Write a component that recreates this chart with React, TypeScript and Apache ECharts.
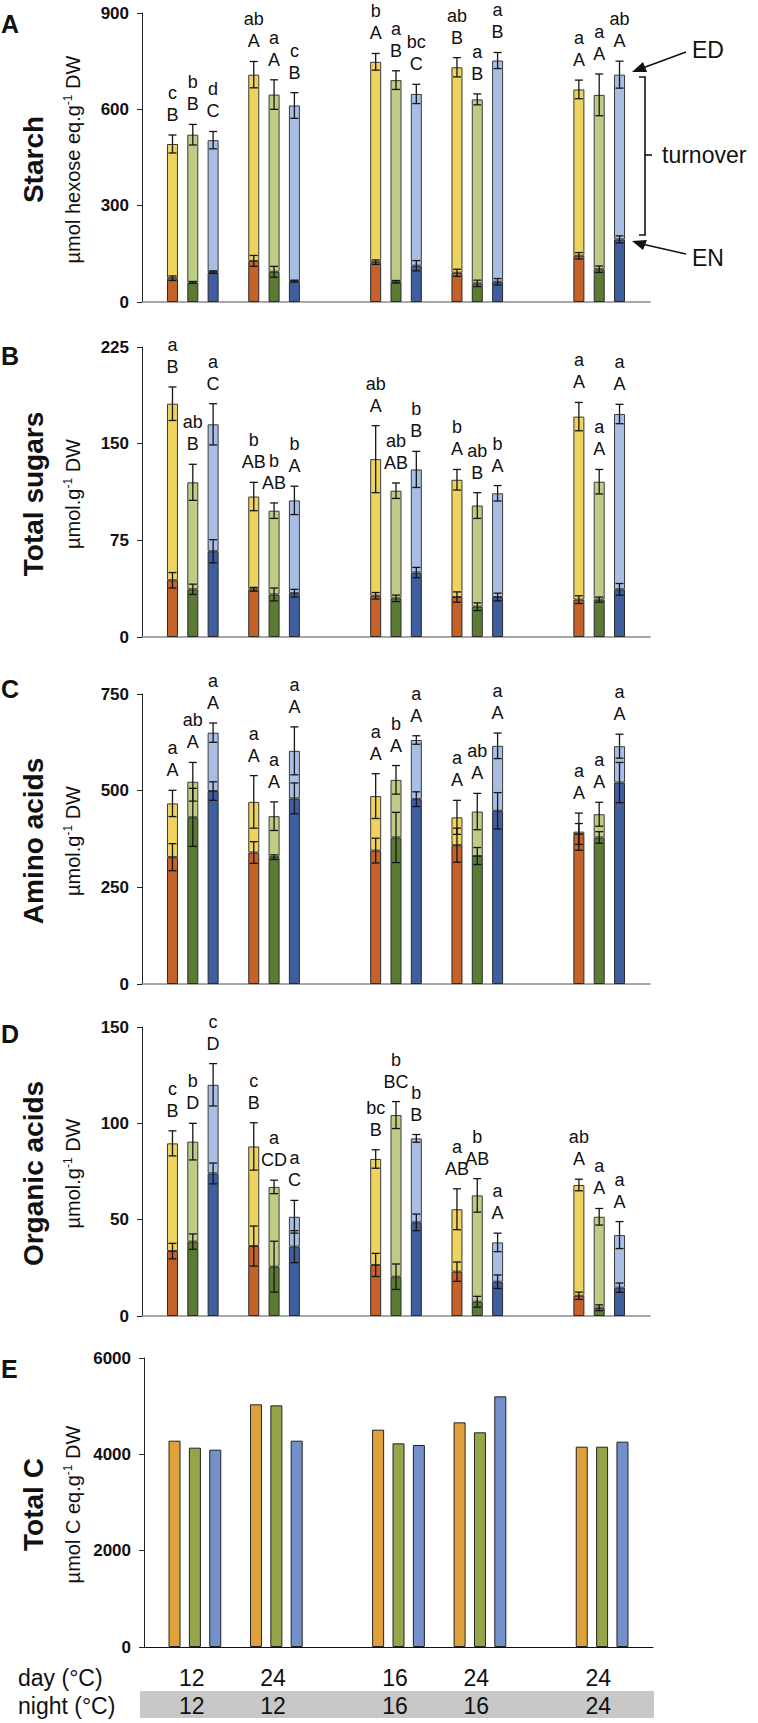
import React, { useEffect, useRef } from 'react';
import * as echarts from 'echarts';

const FONT = '"Liberation Sans", Arial, Helvetica, sans-serif';

// Temperature regimes (°C)
const dayTemps = ['12', '24', '16', '24', '24'];
const nightTemps = ['12', '12', '16', '16', '24'];

// Order inside each regime: orange line, green line, blue line
// A  Starch (µmol hexose eq. g-1 DW)
const starchEN = [74, 61, 93, 128, 94, 65, 124, 63, 113, 91, 58, 63, 144, 102, 195];
const starchENErr = [7, 3, 4, 17, 17, 3, 7, 4, 16, 11, 10, 10, 10, 10, 11];
const starchED = [492, 521, 504, 708, 646, 612, 748, 691, 648, 731, 631, 752, 662, 645, 708];
const starchEDErr = [28, 32, 27, 41, 46, 40, 26, 29, 30, 30, 17, 25, 29, 65, 42];
const starchLower = ['c', 'b', 'd', 'ab', 'a', 'c', 'b', 'a', 'bc', 'ab', 'a', 'a', 'a', 'a', 'ab'];
const starchUpper = ['B', 'B', 'C', 'A', 'A', 'B', 'A', 'B', 'C', 'B', 'B', 'B', 'A', 'A', 'A'];

// B  Total sugars (µmol g-1 DW)
const sugarEN = [44, 37, 66.5, 37, 33, 34, 32, 30, 50, 31, 23.5, 31, 29, 29, 37];
const sugarENErr = [6, 4, 9, 1.5, 5, 3, 2.5, 2.5, 4, 4, 3, 3, 3, 2, 4.5];
const sugarED = [181, 120, 165, 109, 98, 106, 138, 113.5, 130, 122, 102, 111.5, 171, 120.5, 173];
const sugarEDErr = [13, 14, 16, 11, 6, 11, 26, 6, 14, 8, 10, 6, 11, 9.5, 7.5];
const sugarLower = ['a', 'ab', 'a', 'b', 'b', 'b', 'ab', 'ab', 'b', 'b', 'ab', 'b', 'a', 'a', 'a'];
const sugarUpper = ['B', 'B', 'C', 'AB', 'AB', 'A', 'A', 'AB', 'B', 'A', 'B', 'A', 'A', 'A', 'A'];

// C  Amino acids (µmol g-1 DW)
const aminoEN = [328, 431, 499, 340, 328, 480, 345, 379, 478, 359, 331, 448, 388, 379, 521];
const aminoENErr = [35, 75, 24, 28, 6, 40, 32, 65, 19, 44, 22, 47, 27, 15, 52];
const aminoED = [467, 523, 650, 471, 434, 603, 486, 528, 631, 431, 446, 616, 394, 439, 615];
const aminoEDErr = [34, 50, 25, 68, 37, 62, 58, 37, 11, 44, 47, 33, 48, 31, 31];
const aminoLower = ['a', 'ab', 'a', 'a', 'a', 'a', 'a', 'b', 'a', 'a', 'ab', 'a', 'a', 'a', 'a'];
const aminoUpper = ['A', 'A', 'A', 'A', 'A', 'A', 'A', 'A', 'A', 'A', 'A', 'A', 'A', 'A', 'A'];

// D  Organic acids (µmol g-1 DW)
const organicEN = [33.7, 38.6, 74, 36.3, 25.6, 36, 26.5, 20.4, 48.6, 23, 7.4, 17.8, 10.5, 4.3, 14.7];
const organicENErr = [4, 4, 5.4, 10.4, 13.2, 8.3, 6, 6.6, 4.3, 5, 2.8, 3.5, 1.9, 1.5, 2.4];
const organicED = [89.6, 90.5, 120, 88, 67, 51.5, 81.5, 104.3, 92.2, 55.4, 62.6, 38.2, 68, 51.5, 42];
const organicEDErr = [6.5, 9.5, 11, 12.3, 3.5, 8.5, 4.8, 7, 2, 10.6, 8.7, 4.8, 3, 4.3, 7];
const organicLower = ['c', 'b', 'c', 'c', 'a', 'a', 'bc', 'b', 'b', 'a', 'b', 'a', 'ab', 'a', 'a'];
const organicUpper = ['B', 'D', 'D', 'B', 'CD', 'C', 'B', 'BC', 'B', 'AB', 'AB', 'A', 'A', 'A', 'A'];

// E  Total C (µmol C eq. g-1 DW)
const totalC = [4283, 4138, 4097, 5038, 5017, 4283, 4512, 4228, 4194, 4664, 4457, 5204, 4159, 4159, 4263];

// ---- layout / style (not data) ----
const SLOT_COUNT = 25;
const BAR_SLOTS = [1, 2, 3, 5, 6, 7, 11, 12, 13, 15, 16, 17, 21, 22, 23];
const GROUP_CENTER_SLOTS = [2, 6, 12, 16, 22];
const categories = Array.from({ length: SLOT_COUNT }, (_, i) => 's' + i);

const DARK = ['#C5622A', '#5B7A33', '#3F5EA0'];
const LIGHT = ['#EED35E', '#BFCC85', '#A9BEE5'];
const TOTAL = ['#DFA23B', '#95A54A', '#7390CB'];

const grids = [
  { left: 142, top: 13, width: 508, height: 289 },
  { left: 142, top: 347, width: 508, height: 290 },
  { left: 142, top: 694, width: 508, height: 290 },
  { left: 142, top: 1027, width: 508, height: 289 },
  { left: 144, top: 1358, width: 509, height: 289 },
];

const panelMeta = [
  { letter: 'A', letterTop: 15, title: 'Starch', unit: 'µmol hexose eq.g', max: 900, interval: 300 },
  { letter: 'B', letterTop: 347, title: 'Total sugars', unit: 'µmol.g', max: 225, interval: 75 },
  { letter: 'C', letterTop: 680, title: 'Amino acids', unit: 'µmol.g', max: 750, interval: 250 },
  { letter: 'D', letterTop: 1025, title: 'Organic acids', unit: 'µmol.g', max: 150, interval: 50 },
  { letter: 'E', letterTop: 1360, title: 'Total C', unit: 'µmol C eq.g', max: 6000, interval: 2000 },
];

const stacked = [
  { en: starchEN, enErr: starchENErr, ed: starchED, edErr: starchEDErr, lower: starchLower, upper: starchUpper },
  { en: sugarEN, enErr: sugarENErr, ed: sugarED, edErr: sugarEDErr, lower: sugarLower, upper: sugarUpper },
  { en: aminoEN, enErr: aminoENErr, ed: aminoED, edErr: aminoEDErr, lower: aminoLower, upper: aminoUpper },
  { en: organicEN, enErr: organicENErr, ed: organicED, edErr: organicEDErr, lower: organicLower, upper: organicUpper },
];

function toSlots(vals: number[], palette: string[]) {
  const arr: any[] = new Array(SLOT_COUNT).fill(null);
  BAR_SLOTS.forEach((s, k) => {
    arr[s] = { value: vals[k], itemStyle: { color: palette[k % 3] } };
  });
  return arr;
}

function txt(extra: any) {
  return { type: 'text', silent: true, ...extra };
}

function buildOption() {
  const xAxis: any[] = [];
  const yAxis: any[] = [];
  const series: any[] = [];
  const graphic: any[] = [];

  grids.forEach((g, i) => {
    const isE = i === 4;
    xAxis.push({
      type: 'category',
      gridIndex: i,
      data: categories,
      boundaryGap: true,
      axisLine: { show: true, lineStyle: { color: isE ? '#111' : '#8a8a8a', width: isE ? 1.2 : 1.6 } },
      axisTick: { show: false },
      axisLabel: { show: false },
      splitLine: { show: false },
    });
    yAxis.push({
      type: 'value',
      gridIndex: i,
      min: 0,
      max: panelMeta[i].max,
      interval: panelMeta[i].interval,
      axisLine: { show: true, lineStyle: { color: '#222', width: 1 } },
      axisTick: { show: true, length: 5, lineStyle: { color: '#222' } },
      axisLabel: {
        fontFamily: FONT, fontWeight: 'bold', fontSize: 17, color: '#111', margin: 13,
        formatter: (v: number) => String(v),
      },
      splitLine: { show: false },
    });
  });

  stacked.forEach((d, i) => {
    const turnover = d.ed.map((v, k) => v - d.en[k]);
    series.push({
      type: 'bar', name: 'EN' + i, xAxisIndex: i, yAxisIndex: i, stack: 'p' + i,
      barWidth: 11, data: toSlots(d.en, DARK),
      itemStyle: { borderColor: '#2a2a2a', borderWidth: 1 },
      silent: true,
    });
    series.push({
      type: 'bar', name: 'turnover' + i, xAxisIndex: i, yAxisIndex: i, stack: 'p' + i,
      barWidth: 11, data: toSlots(turnover, LIGHT),
      itemStyle: { borderColor: '#3a3a3a', borderWidth: 1 },
      silent: true,
    });
    series.push({
      type: 'custom', xAxisIndex: i, yAxisIndex: i, z: 5, silent: true,
      data: BAR_SLOTS.map((s, k) => [s, Math.max(d.ed[k] + d.edErr[k], d.en[k] + d.enErr[k])]),
      renderItem: (params: any, api: any) => {
        const k = params.dataIndex;
        const s = BAR_SLOTS[k];
        const children: any[] = [];
        const st = { stroke: '#151515', lineWidth: 1.3 };
        const pairs = [[d.en[k], d.enErr[k]], [d.ed[k], d.edErr[k]]];
        pairs.forEach(([v, e]) => {
          const hi = api.coord([s, v + e]);
          const lo = api.coord([s, Math.max(v - e, 0)]);
          const x = hi[0];
          children.push({ type: 'line', shape: { x1: x, y1: hi[1], x2: x, y2: lo[1] }, style: st });
          children.push({ type: 'line', shape: { x1: x - 4, y1: hi[1], x2: x + 4, y2: hi[1] }, style: st });
          children.push({ type: 'line', shape: { x1: x - 4, y1: lo[1], x2: x + 4, y2: lo[1] }, style: st });
        });
        return { type: 'group', children };
      },
    });
    series.push({
      type: 'custom', xAxisIndex: i, yAxisIndex: i, z: 6, silent: true,
      data: BAR_SLOTS.map((s, k) => [s, Math.max(d.ed[k] + d.edErr[k], d.en[k] + d.enErr[k])]),
      renderItem: (params: any, api: any) => {
        const k = params.dataIndex;
        const p = api.coord([api.value(0), api.value(1)]);
        return {
          type: 'text',
          x: p[0],
          y: p[1] - 9,
          style: {
            text: d.lower[k] + '\n' + d.upper[k],
            fontFamily: FONT, fontSize: 18, lineHeight: 22, fill: '#111',
            align: 'center', verticalAlign: 'bottom',
            textAlign: 'center', textVerticalAlign: 'bottom',
          },
        };
      },
    });
  });

  series.push({
    type: 'bar', name: 'Total C', xAxisIndex: 4, yAxisIndex: 4, barWidth: 12,
    data: toSlots(totalC, TOTAL),
    itemStyle: { borderColor: '#222', borderWidth: 1 },
    silent: true,
  });

  // titles, panel letters
  panelMeta.forEach((m, i) => {
    const g = grids[i];
    const cy = g.top + g.height / 2 + 2;
    graphic.push(txt({
      x: 1, y: m.letterTop - 4,
      style: { text: m.letter, fontFamily: FONT, fontWeight: 'bold', fontSize: 25, fill: '#111', align: 'left', verticalAlign: 'top', textAlign: 'left', textVerticalAlign: 'top' },
    }));
    graphic.push(txt({
      x: 33, y: cy, rotation: Math.PI / 2,
      style: { text: m.title, fontFamily: FONT, fontWeight: 'bold', fontSize: 28, fill: '#111', align: 'center', verticalAlign: 'middle', textAlign: 'center', textVerticalAlign: 'middle' },
    }));
    graphic.push(txt({
      x: 73, y: cy, rotation: Math.PI / 2,
      style: {
        text: '{n|' + m.unit + '}{s|-1}{n| DW}',
        rich: {
          n: { fontFamily: FONT, fontSize: 20, lineHeight: 22, fill: '#111', verticalAlign: 'middle' },
          s: { fontFamily: FONT, fontSize: 12, lineHeight: 12, fill: '#111', verticalAlign: 'top' },
        },
        align: 'center', verticalAlign: 'middle', textAlign: 'center', textVerticalAlign: 'middle',
      },
    }));
  });

  // annotations in panel A
  const ann = { stroke: '#111', lineWidth: 1.6 };
  graphic.push(txt({ x: 692, y: 50, style: { text: 'ED', fontFamily: FONT, fontSize: 23, fill: '#111', align: 'left', verticalAlign: 'middle', textAlign: 'left', textVerticalAlign: 'middle' } }));
  graphic.push(txt({ x: 692, y: 258, style: { text: 'EN', fontFamily: FONT, fontSize: 23, fill: '#111', align: 'left', verticalAlign: 'middle', textAlign: 'left', textVerticalAlign: 'middle' } }));
  graphic.push(txt({ x: 662, y: 155, style: { text: 'turnover', fontFamily: FONT, fontSize: 23, fill: '#111', align: 'left', verticalAlign: 'middle', textAlign: 'left', textVerticalAlign: 'middle' } }));
  graphic.push({ type: 'line', silent: true, shape: { x1: 686, y1: 52, x2: 644, y2: 67.5 }, style: ann });
  graphic.push({ type: 'polygon', silent: true, shape: { points: [[632, 72], [647, 72], [643, 62]] }, style: { fill: '#111' } });
  graphic.push({ type: 'line', silent: true, shape: { x1: 686, y1: 254, x2: 644, y2: 244.5 }, style: ann });
  graphic.push({ type: 'polygon', silent: true, shape: { points: [[632, 241], [647, 240], [643, 250]] }, style: { fill: '#111' } });
  graphic.push({ type: 'polyline', silent: true, shape: { points: [[639, 77], [645, 77], [645, 235], [639, 235]] }, style: { stroke: '#111', lineWidth: 1.6, fill: null } });
  graphic.push({ type: 'line', silent: true, shape: { x1: 645, y1: 155, x2: 652, y2: 155 }, style: { stroke: '#111', lineWidth: 1.6 } });

  // day / night rows
  const g0 = grids[0];
  graphic.push({ type: 'rect', silent: true, z: -1, shape: { x: 140, y: 1691, width: 514, height: 27 }, style: { fill: '#C8C8C8' } });
  graphic.push(txt({ x: 18, y: 1678, style: { text: 'day (°C)', fontFamily: FONT, fontSize: 23, fill: '#111', align: 'left', verticalAlign: 'middle', textAlign: 'left', textVerticalAlign: 'middle' } }));
  graphic.push(txt({ x: 18, y: 1706, style: { text: 'night (°C)', fontFamily: FONT, fontSize: 23, fill: '#111', align: 'left', verticalAlign: 'middle', textAlign: 'left', textVerticalAlign: 'middle' } }));
  GROUP_CENTER_SLOTS.forEach((s, j) => {
    const x = g0.left + (s + 0.5) * g0.width / SLOT_COUNT - 1;
    graphic.push(txt({ x, y: 1678, style: { text: dayTemps[j], fontFamily: FONT, fontSize: 23, fill: '#111', align: 'center', verticalAlign: 'middle', textAlign: 'center', textVerticalAlign: 'middle' } }));
    graphic.push(txt({ x, y: 1706, style: { text: nightTemps[j], fontFamily: FONT, fontSize: 23, fill: '#111', align: 'center', verticalAlign: 'middle', textAlign: 'center', textVerticalAlign: 'middle' } }));
  });

  return {
    animation: false,
    backgroundColor: '#ffffff',
    grid: grids.map((g) => ({ left: g.left, top: g.top, width: g.width, height: g.height, containLabel: false })),
    xAxis,
    yAxis,
    series,
    graphic: { elements: graphic },
  };
}

export default function App() {
  const ref = useRef<HTMLDivElement>(null);
  useEffect(() => {
    document.body.style.margin = '0';
    if (!ref.current) return;
    const chart = echarts.init(ref.current, undefined, { renderer: 'svg' });
    chart.setOption(buildOption() as any);
    return () => chart.dispose();
  }, []);
  return <div ref={ref} style={{ width: 758, height: 1723 }} />;
}
